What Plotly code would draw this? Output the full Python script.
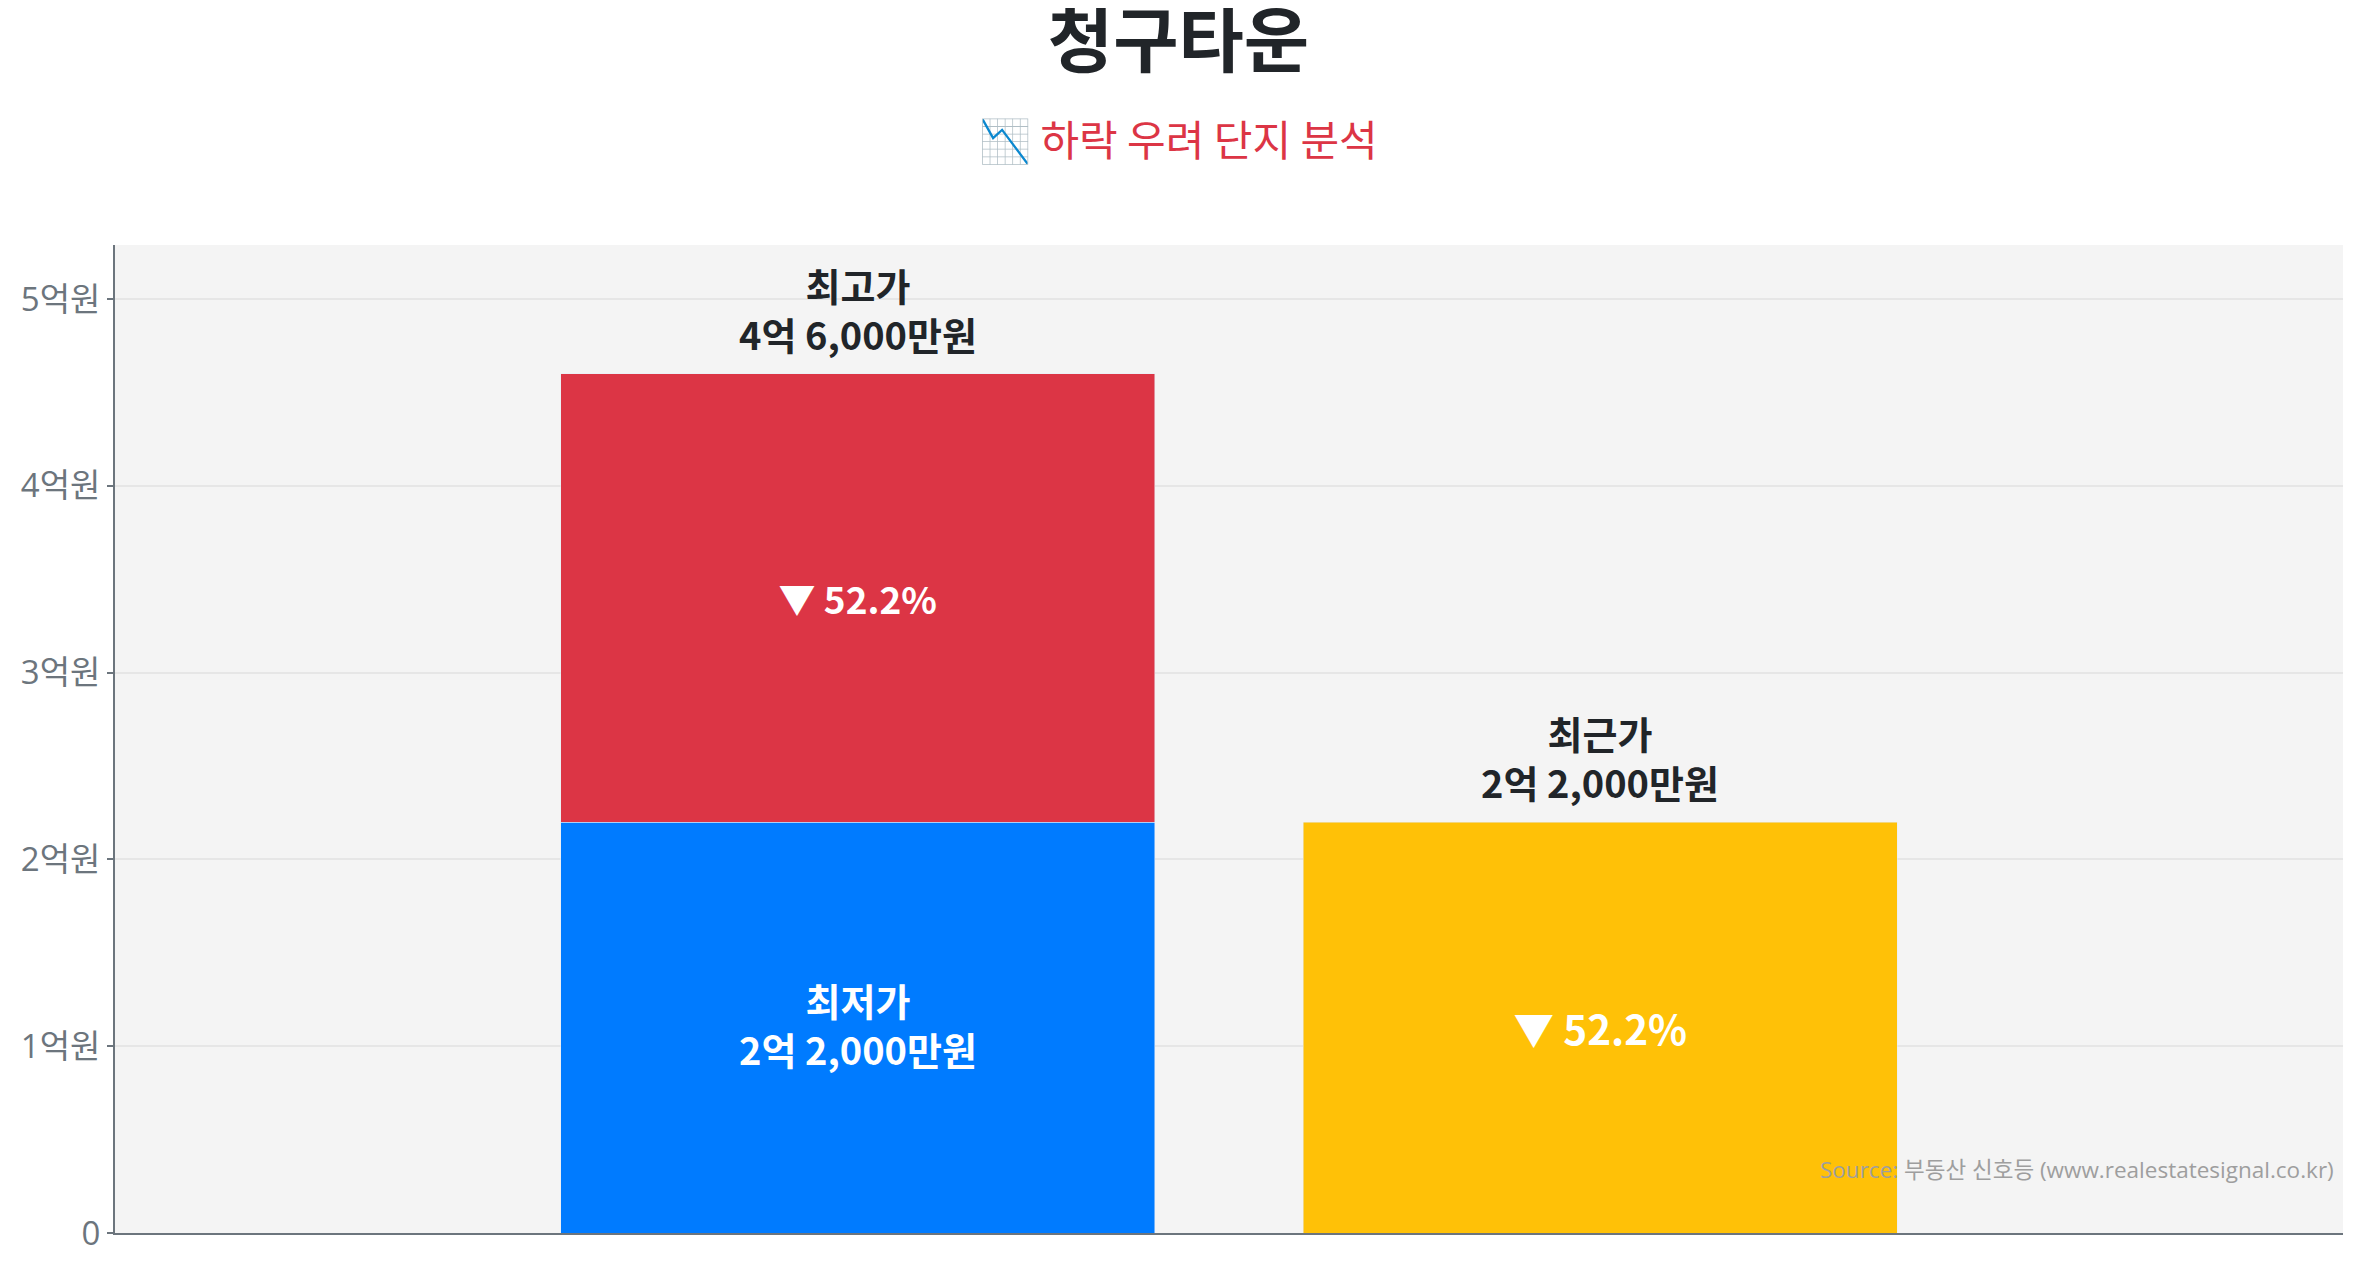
import plotly.graph_objects as go

# 가격 데이터 (단위: 만원)
apt_name = "청구타운"
subtitle = "📉 하락 우려 단지 분석"
source_text = "Source: 부동산 신호등 (www.realestatesignal.co.kr)"

max_price = 46000     # 최고가
min_price = 22000     # 최저가
recent_price = 22000  # 최근가

tick_vals = [0, 10000, 20000, 30000, 40000, 50000]
tick_text = ["0", "1억원", "2억원", "3억원", "4억원", "5억원"]

RED = "#dc3545"
BLUE = "#007bff"
YELLOW = "#ffc107"
DARK = "#212529"
GRAY = "#6c757d"
KR = "Noto Sans CJK KR"

# 페이지 body 여백(8px)을 빼고 그림 크기를 잡는다
W, H = 2341, 1252


def fmt_price(v):
    eok, man = divmod(int(v), 10000)
    if man == 0:
        return f"{eok}억원"
    return f"{eok}억 {man:,}만원"


drop_pct = (max_price - min_price) / max_price * 100
recent_drop = (max_price - recent_price) / max_price * 100

fig = go.Figure()

fig.add_trace(go.Bar(
    x=[1], y=[min_price], marker_color=BLUE, width=0.8,
    hoverinfo="skip", showlegend=False,
))
fig.add_trace(go.Bar(
    x=[1], y=[max_price - min_price], marker_color=RED, width=0.8,
    text=[f"▼ {drop_pct:.1f}%"], textposition="inside",
    insidetextanchor="middle", textangle=0,
    textfont=dict(family=KR, size=37, color="white", weight="bold"),
    hoverinfo="skip", showlegend=False,
))
fig.add_trace(go.Bar(
    x=[2], y=[recent_price], marker_color=YELLOW, width=0.8,
    text=[f"▼ {recent_drop:.1f}%"], textposition="inside",
    insidetextanchor="middle", textangle=0,
    textfont=dict(family=KR, size=40.5, color="white", weight="bold"),
    hoverinfo="skip", showlegend=False,
))

label_font = dict(family=KR, size=38, color=DARK, weight="bold")
inner_font = dict(family=KR, size=38, color="white", weight="bold")

# 막대 위 라벨
for xv, yv, name in [(1, max_price, "최고가"), (2, recent_price, "최근가")]:
    fig.add_annotation(x=xv, y=yv, text=f"{name}<br>{fmt_price(yv)}",
                       showarrow=False, yanchor="middle", yshift=65,
                       font=label_font)

# 최저가 라벨 (파란 막대 안)
fig.add_annotation(x=1, y=min_price / 2, text=f"최저가<br>{fmt_price(min_price)}",
                   showarrow=False, yanchor="middle", yshift=4, font=inner_font)

# 부제목
fig.add_annotation(xref="paper", yref="paper", x=(W / 2 - 107) / (W - 113), y=1.109,
                   text=subtitle, showarrow=False, yanchor="middle",
                   font=dict(family=KR, size=42, color=RED))

# 출처
fig.add_annotation(xref="paper", yref="paper", x=0.997, y=0.064,
                   text=source_text, showarrow=False,
                   xanchor="right", yanchor="middle",
                   font=dict(family="Open Sans, " + KR, size=22.5, color="#9e9e9e"))

fig.update_layout(
    width=W, height=H,
    margin=dict(l=107, r=6, t=237, b=27),
    paper_bgcolor="white",
    plot_bgcolor="#f4f4f4",
    barmode="stack",
    title=dict(text=f"<b>{apt_name}</b>", x=0.5, xref="container",
               y=1 - 33 / H, yanchor="middle",
               font=dict(family=KR, size=71, color=DARK)),
    xaxis=dict(range=[0, 3], showticklabels=False, showgrid=False,
               zeroline=False, showline=True, linecolor=GRAY, linewidth=2,
               ticks=""),
    yaxis=dict(range=[0, max_price * 1.15], tickvals=tick_vals, ticktext=tick_text,
               showgrid=True, gridcolor="#e6e6e6", gridwidth=2, zeroline=False,
               showline=True, linecolor=GRAY, linewidth=2,
               ticks="outside", ticklen=6, tickcolor=GRAY, tickwidth=2,
               tickfont=dict(family="Open Sans, " + KR, size=33, color=GRAY)),
    hovermode=False,
)

fig.write_html("out.html", config={"displayModeBar": False})
